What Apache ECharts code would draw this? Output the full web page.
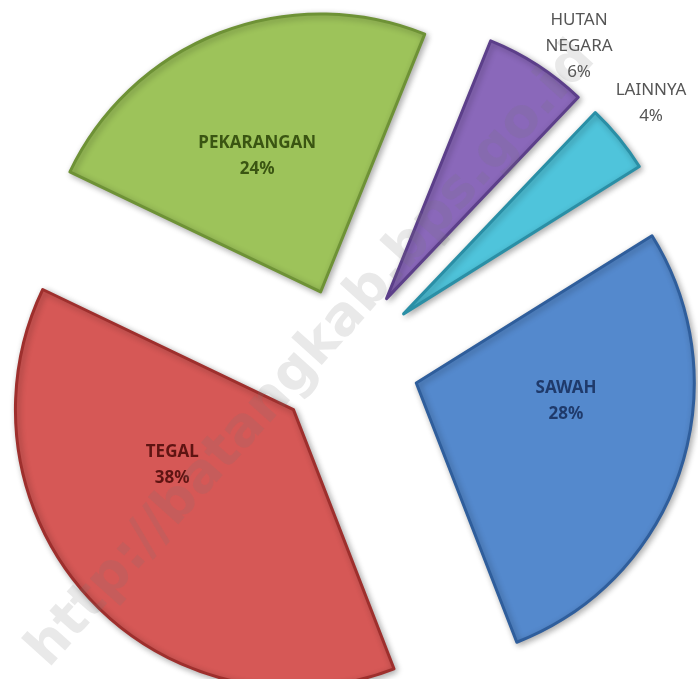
<!DOCTYPE html>
<html>
<head>
<meta charset="utf-8">
<style>
  html, body { margin: 0; padding: 0; background: #fff; }
  #chart { width: 698px; height: 679px; }
</style>
<script src="https://cdn.jsdelivr.net/npm/echarts@6/dist/echarts.min.js"></script>
</head>
<body>
<div id="chart"></div>
<script>
// land use shares (%)
const categories = ["SAWAH", "TEGAL", "PEKARANGAN", "HUTAN NEGARA", "LAINNYA"];
const shares = [28, 38, 24, 6, 4];

const fillColors = ["#5489CD", "#D65856", "#9DC35A", "#8A68BA", "#4FC4DB"];
const edgeColors = ["#2F5E9C", "#9E2F2D", "#6E9236", "#5C3F8A", "#2A8FA6"];
const textColors = ["#1F3A6B", "#5E1412", "#3A5512", "#555555", "#555555"];
const outsideSlices = ["HUTAN NEGARA", "LAINNYA"];
// small label shifts to follow excel's label placement
const labelNudge = [[15, -27], [-17, -41], [-12, -3], [25, 0], [10, -21]];

const chart = echarts.init(document.getElementById("chart"));

const pieData = categories.map((name, i) => {
  const outside = outsideSlices.indexOf(name) >= 0;
  return {
    name: name,
    value: shares[i],
    selected: true,
    itemStyle: {
      color: fillColors[i],
      borderColor: edgeColors[i],
      borderWidth: 3,
      shadowBlur: 6,
      shadowOffsetX: 2,
      shadowOffsetY: 2,
      shadowColor: "rgba(0,0,0,0.3)"
    },
    label: {
      show: true,
      position: outside ? "outside" : "inside",
      color: textColors[i],
      fontWeight: outside ? "normal" : "bold"
    }
  };
});

const option = {
  animation: false,
  backgroundColor: "#fff",
  series: [
    {
      type: "pie",
      center: [347, 360],
      radius: [0, 278],
      startAngle: 32,
      clockwise: true,
      avoidLabelOverlap: false,
      selectedMode: "multiple",
      selectedOffset: 73,
      label: {
        fontFamily: "Noto Sans",
        fontSize: 17,
        lineHeight: 26,
        overflow: "none",
        formatter(p) {
          return p.name.split(" ").join("\n") + "\n" + p.value + "%";
        }
      },
      labelLine: { show: false, length: 22, length2: 0 },
      labelLayout(p) {
        const outside = outsideSlices.indexOf(categories[p.dataIndex]) >= 0;
        const res = {
          dx: labelNudge[p.dataIndex][0],
          dy: labelNudge[p.dataIndex][1],
          hideOverlap: false
        };
        if (outside) res.align = "center";
        return res;
      },
      emphasis: { disabled: true },
      data: pieData
    }
  ],
  graphic: [
    {
      type: "text",
      x: 312,
      y: 355,
      rotation: 48 * Math.PI / 180,
      z: 100,
      silent: true,
      style: {
        text: "http://batangkab.bps.go.id",
        fontFamily: "DejaVu Sans",
        fontWeight: "bold",
        fontSize: 54,
        fill: "rgba(120,120,120,0.16)",
        align: "center",
        verticalAlign: "middle"
      }
    }
  ]
};

chart.setOption(option);
</script>
</body>
</html>
